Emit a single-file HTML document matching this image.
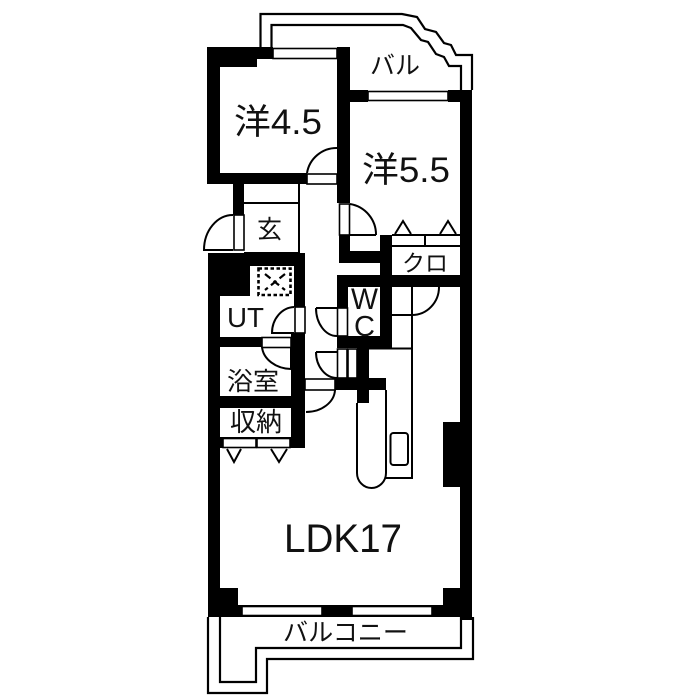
<!DOCTYPE html>
<html><head><meta charset="utf-8">
<style>html,body{margin:0;padding:0;background:#fff}svg{display:block}
text{font-family:"Liberation Sans","Noto Sans CJK JP",sans-serif;fill:#111}
.j{font-weight:300}</style></head>
<body>
<svg width="700" height="700" viewBox="0 0 700 700" xmlns="http://www.w3.org/2000/svg">
<rect width="700" height="700" fill="#fff"/>
<!-- balconies -->
<g fill="none" stroke="#000" stroke-width="2.2">
<path d="M260.500 47V14H402L417 17L425 29L436 32L444 43L451 45L456 55H472V90"/>
<path d="M271.500 47V25H403L411 28L421 40L428 42L436 54L444 57L449 66H461V90"/>
<path d="M208 617V693H267V659H473V617"/>
<path d="M220 617V682H256V648H461V617"/>
</g>
<!-- walls -->
<g fill="#000">
<rect x="207" y="47" width="66" height="12"/>
<rect x="207" y="47" width="50" height="20"/>
<rect x="207" y="47" width="13" height="137"/>
<rect x="207" y="173" width="100" height="11"/>
<rect x="337" y="47" width="13" height="156"/>
<rect x="337" y="47" width="13" height="12"/>
<rect x="350" y="90" width="18" height="12"/>
<rect x="448" y="90" width="24" height="12"/>
<rect x="460" y="90" width="12" height="530"/>
<rect x="233" y="184" width="11" height="31"/>
<rect x="339" y="235" width="11" height="28"/>
<rect x="339" y="251" width="53" height="12"/>
<rect x="380" y="235" width="12" height="113"/>
<rect x="337" y="275" width="135" height="12"/>
<rect x="337" y="275" width="11" height="33"/>
<rect x="337" y="336" width="53" height="12"/>
<rect x="357" y="336" width="12" height="67"/>
<rect x="335" y="378" width="51" height="12"/>
<rect x="443" y="422" width="17" height="65"/>
<rect x="208" y="253" width="97" height="13"/>
<rect x="208" y="253" width="42" height="43"/>
<rect x="208" y="253" width="12" height="364"/>
<rect x="294" y="253" width="11" height="54"/>
<rect x="291" y="333" width="14" height="115"/>
<rect x="220" y="337" width="42" height="10"/>
<rect x="220" y="396" width="72" height="12"/>
<rect x="220" y="437" width="72" height="11"/>
<rect x="208" y="588" width="30" height="29"/>
<rect x="443" y="588" width="29" height="29"/>
<rect x="208" y="605" width="264" height="12"/>
</g>
<!-- windows / openings -->
<g fill="#fff" stroke="#000" stroke-width="1.600">
<rect x="273" y="48.500" width="64" height="10"/>
<rect x="368" y="91.500" width="80" height="9"/>
<rect x="242" y="606.500" width="80" height="9"/>
<rect x="352" y="606.500" width="80" height="9"/>
<rect x="223" y="438.500" width="33" height="9"/>
<rect x="257" y="438.500" width="33" height="9"/>
<rect x="307" y="174" width="30" height="10"/>
<rect x="339.500" y="204" width="10" height="31"/>
<rect x="234" y="215" width="10" height="35"/>
<rect x="295" y="307" width="10" height="26"/>
<rect x="262" y="337.500" width="29" height="10"/>
<rect x="305" y="379" width="30" height="11"/>
<rect x="337.500" y="308" width="10" height="28"/>
<rect x="337.500" y="349" width="9.500" height="29"/>
<rect x="348" y="349" width="9" height="29"/>
</g>
<!-- thin lines -->
<g fill="none" stroke="#000" stroke-width="2">
<path d="M244 203H299M299 184V253M244 253H299"/>
<path d="M307 173A30 30 0 0 1 337 148"/>
<path d="M350 204A31 31 0 0 1 376 235M350 235H376"/>
<path d="M233 215A29 35 0 0 0 204 250H233"/>
<path d="M294 307A23 26 0 0 0 272 333H294"/>
<path d="M262 347A30 24 0 0 0 291 369V347"/>
<path d="M316 308H337M316 308A21 28 0 0 0 337 336"/>
<path d="M316 352H337M316 352A21 26 0 0 0 337 378"/>
<path d="M335 390A29 23 0 0 1 306 412"/>
<path d="M392 235H460M392 246H460M425 235V246"/>
<path d="M395 234L403 221L411 234M440 234L448 221L456 234"/>
<path d="M227 449L234 462L241 449M271 449L279 462L287 449"/>
<path d="M412 287V478H386M392 315H412M412 315A27 28 0 0 0 439 287"/>
<path d="M369 348.500H412"/>
<path d="M357 403V473A14.500 15 0 0 0 386 473V390"/>
<rect x="390.500" y="433" width="17.500" height="32" rx="3"/>
</g>
<!-- vent -->
<rect x="258.500" y="268.500" width="32" height="26.500" fill="none" stroke="#000" stroke-width="2.600" stroke-dasharray="3.500 2.500"/>
<path d="M265 274L285 290M285 274L265 290" stroke="#000" stroke-width="2.200" stroke-dasharray="7 4" fill="none"/>
<!-- labels -->
<text x="234" y="134" font-size="35" textLength="88" lengthAdjust="spacingAndGlyphs">洋4.5</text>
<text x="362" y="182" font-size="35" textLength="88" lengthAdjust="spacingAndGlyphs">洋5.5</text>
<text x="370" y="74" font-size="25" textLength="50" lengthAdjust="spacingAndGlyphs">バル</text>
<text x="257" y="238" font-size="25">玄</text>
<text x="402" y="271" font-size="23" textLength="46" lengthAdjust="spacingAndGlyphs">クロ</text>
<text x="351" y="309" font-size="30" textLength="27" lengthAdjust="spacingAndGlyphs">W</text>
<text x="354" y="336" font-size="29" textLength="21" lengthAdjust="spacingAndGlyphs">C</text>
<text x="227" y="327" font-size="28" textLength="37" lengthAdjust="spacingAndGlyphs">UT</text>
<text x="227" y="390" font-size="25" textLength="52" lengthAdjust="spacingAndGlyphs">浴室</text>
<text x="230" y="431" font-size="26" textLength="52" lengthAdjust="spacingAndGlyphs">収納</text>
<text x="284" y="552" font-size="40" textLength="118" lengthAdjust="spacingAndGlyphs">LDK17</text>
<text x="283" y="641" font-size="25" textLength="125" lengthAdjust="spacingAndGlyphs">バルコニー</text>
</svg>
</body></html>
